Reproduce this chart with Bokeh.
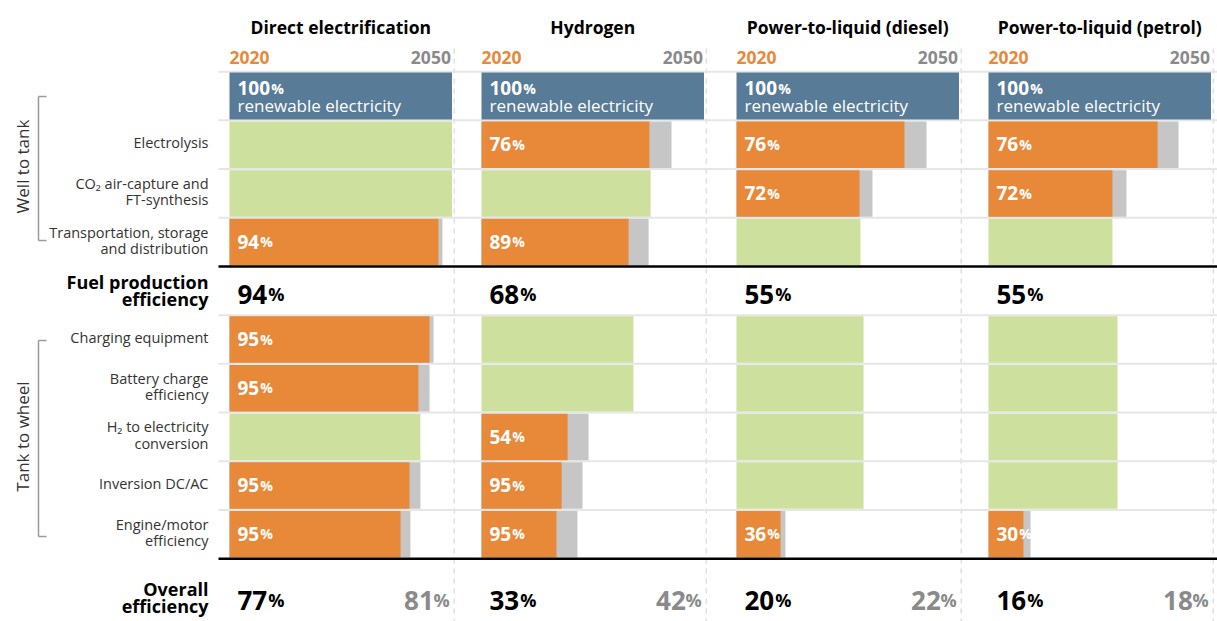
from bokeh.plotting import figure
from bokeh.models import Range1d
from bokeh.core.properties import value
from bokeh.embed import file_html
from bokeh.resources import INLINE

# ---------------- data ----------------
pathways = ["Direct electrification", "Hydrogen", "Power-to-liquid (diesel)", "Power-to-liquid (petrol)"]
renewable_share = [100, 100, 100, 100]

step_labels = [
    ["Electrolysis"],
    ["CO\u2082 air-capture and", "FT-synthesis"],
    ["Transportation, storage", "and distribution"],
    ["Charging equipment"],
    ["Battery charge", "efficiency"],
    ["H\u2082 to electricity", "conversion"],
    ["Inversion DC/AC"],
    ["Engine/motor", "efficiency"],
]
group_labels = ["Well to tank", "Tank to wheel"]

# kind: "o" = step applies (2020 orange + 2050 grey), "g" = step not applicable (pass-through)
kind_direct = ["g", "g", "o", "o", "o", "g", "o", "o"]
cum2020_direct = [100, 100, 93.9, 89.9, 84.9, 85.8, 80.9, 76.9]
cum2050_direct = [100, 100, 95.7, 91.7, 89.9, 85.8, 85.8, 81.3]
eff_direct = [None, None, 94, 95, 95, None, 95, 95]

kind_h2 = ["o", "g", "o", "g", "g", "o", "o", "o"]
cum2020_h2 = [75.5, 76.0, 66.1, 68.3, 68.3, 38.7, 36.0, 33.7]
cum2050_h2 = [85.4, 76.0, 75.1, 68.3, 68.3, 48.1, 45.4, 43.1]
eff_h2 = [76, None, 89, None, None, 54, 95, 95]

kind_diesel = ["o", "o", "g", "g", "g", "g", "g", "o"]
cum2020_diesel = [75.5, 55.3, 55.7, 57.1, 57.1, 57.1, 57.1, 19.8]
cum2050_diesel = [85.4, 61.1, 55.7, 57.1, 57.1, 57.1, 57.1, 22.0]
eff_diesel = [76, 72, None, None, None, None, None, 36]

kind_petrol = ["o", "o", "g", "g", "g", "g", "g", "o"]
cum2020_petrol = [76.0, 55.7, 55.7, 58.0, 58.0, 58.0, 58.0, 15.7]
cum2050_petrol = [85.4, 62.0, 55.7, 58.0, 58.0, 58.0, 58.0, 18.9]
eff_petrol = [76, 72, None, None, None, None, None, 30]

fuel_production_eff = [94, 68, 55, 55]
overall_2020 = [77, 33, 20, 16]
overall_2050 = [81, 42, 22, 18]

kinds = [kind_direct, kind_h2, kind_diesel, kind_petrol]
cum2020 = [cum2020_direct, cum2020_h2, cum2020_diesel, cum2020_petrol]
cum2050 = [cum2050_direct, cum2050_h2, cum2050_diesel, cum2050_petrol]
effs = [eff_direct, eff_h2, eff_diesel, eff_petrol]

# ---------------- layout ----------------
PXU = 2.225           # pixels per percentage point
X_LEFT = 229.0        # page x of first panel's 0 %
ROW0 = 95.5           # page y of first row centre
ROWH = 48.7           # row pitch in px
W, H = 1217, 621

def ux(px):
    return (px - X_LEFT) / PXU

def uy(py):
    return (py - ROW0) / ROWH

def by(px, fs):
    """baseline position (page px) -> data y, corrected for renderer offset"""
    return uy(px - (2 + 0.28 * fs))

panel_left_px = [229, 481, 736, 988]
OFF = [ux(v) for v in panel_left_px]
step_rows = [1, 2, 3, 5, 6, 7, 8, 9]

ORANGE = "#e8893a"
GREEN = "#cde09e"
GREY = "#c6c6c6"
BLUE = "#587b97"
DARK = "#333333"
MIDGREY = "#8a8a8a"
FONT = value("Open Sans")

p = figure(width=W, height=H,
           x_range=Range1d(ux(0), ux(W)),
           y_range=Range1d(uy(H), uy(0)),
           output_backend="svg", toolbar_location=None,
           x_axis_location=None, y_axis_location=None, min_border=0)
p.grid.visible = False
p.outline_line_color = None
p.background_fill_color = "white"

# dashed panel end lines
p.segment(x0=[o + 101 for o in OFF], x1=[o + 101 for o in OFF],
          y0=uy(48), y1=uy(625), line_color="#d8d8d8", line_width=1.2, line_dash="5 5")

# light row separators
sep_rows = [-0.5, 0.5, 1.5, 2.5, 4.5, 5.5, 6.5, 7.5, 8.5]
p.segment(x0=ux(218), x1=ux(1225), y0=sep_rows, y1=sep_rows, line_color="#e6e6e6", line_width=2)

BH = 0.955
# renewable electricity bars
p.hbar(y=[0] * 4, left=OFF, right=[o + v for o, v in zip(OFF, renewable_share)],
       height=0.965, fill_color=BLUE, line_color=None)

for i in range(4):
    o = OFF[i]
    ys_g, r_g = [], []
    ys_o, r_o, r_2050 = [], [], []
    for j, r in enumerate(step_rows):
        if kinds[i][j] == "g":
            ys_g.append(r); r_g.append(o + cum2020[i][j])
        else:
            ys_o.append(r); r_o.append(o + cum2020[i][j]); r_2050.append(o + cum2050[i][j])
    p.hbar(y=ys_g, left=o, right=r_g, height=BH, fill_color=GREEN, line_color=None)
    p.hbar(y=ys_o, left=o, right=r_2050, height=BH, fill_color=GREY, line_color=None)
    p.hbar(y=ys_o, left=o, right=r_o, height=BH, fill_color=ORANGE, line_color=None)

# thick black lines
p.segment(x0=ux(218), x1=ux(1225), y0=[3.5, 9.5], y1=[3.5, 9.5], line_color="black", line_width=2.5)


def pct_text(xs, base_px, nums, color, nsize, psize, dw, align="left", pw=0, pcolor=None):
    s = [str(n) for n in nums]
    ys = [by(b, nsize) for b in base_px]
    if pcolor is None:
        pcolor = color
    ns, ps = f"{nsize}px", f"{psize}px"
    if align == "left":
        p.text(x=xs, y=ys, text=s, text_align="left", text_baseline="alphabetic",
               text_font=FONT, text_font_style="bold", text_font_size=ns, text_color=color)
        p.text(x=xs, y=ys, text=["%"] * len(s), x_offset=[len(t) * dw + 1 for t in s],
               text_align="left", text_baseline="alphabetic",
               text_font=FONT, text_font_style="bold", text_font_size=ps, text_color=pcolor)
    else:
        p.text(x=xs, y=ys, text=["%"] * len(s), text_align="right", text_baseline="alphabetic",
               text_font=FONT, text_font_style="bold", text_font_size=ps, text_color=pcolor)
        p.text(x=xs, y=ys, text=s, x_offset=-pw - 1, text_align="right", text_baseline="alphabetic",
               text_font=FONT, text_font_style="bold", text_font_size=ns, text_color=color)


LAB_DX = 8 / PXU
# step efficiency labels inside bars
for i in range(4):
    xs, bs, ns = [], [], []
    for j, r in enumerate(step_rows):
        if effs[i][j] is not None:
            xs.append(OFF[i] + LAB_DX); bs.append(ROW0 + r * ROWH + 7); ns.append(effs[i][j])
    pct_text(xs, bs, ns, "white", 19, 14, 10.9)

# renewable labels
pct_text([o + LAB_DX for o in OFF], [95] * 4, renewable_share, "white", 19, 14, 10.9)
p.text(x=[o + LAB_DX for o in OFF], y=[by(112, 17)] * 4, text=["renewable electricity"] * 4,
       text_align="left", text_baseline="alphabetic", text_font=FONT, text_font_size="17px",
       text_color="white")

# fuel production efficiency
pct_text([o + LAB_DX for o in OFF], [303] * 4, fuel_production_eff, "black", 26, 18, 14.9)
# overall
pct_text([o + LAB_DX for o in OFF], [609] * 4, overall_2020, "black", 26, 18, 14.9)
pct_text([o + 99 for o in OFF], [609] * 4, overall_2050, MIDGREY, 26, 18, 14.9,
         align="right", pw=15)

# panel titles and year labels
p.text(x=[o + 50 for o in OFF], y=[by(33, 17.5)] * 4, text=pathways, text_align="center",
       text_baseline="alphabetic", text_font=FONT, text_font_style="bold", text_font_size="17.5px",
       text_color="black")
p.text(x=OFF, y=[by(64, 17.5)] * 4, text=["2020"] * 4, text_align="left", text_baseline="alphabetic",
       text_font=FONT, text_font_style="bold", text_font_size="17.5px", text_color=ORANGE)
p.text(x=[o + 99.5 for o in OFF], y=[by(64, 17.5)] * 4, text=["2050"] * 4, text_align="right",
       text_baseline="alphabetic", text_font=FONT, text_font_style="bold", text_font_size="17.5px",
       text_color=MIDGREY)

# row labels
lx, ly, lt = [], [], []
for j, r in enumerate(step_rows):
    lines = step_labels[j]
    c = ROW0 + r * ROWH
    if len(lines) == 1:
        lx.append(ux(208)); ly.append(by(c + 4, 14.5)); lt.append(lines[0])
    else:
        lx += [ux(208), ux(208)]
        ly += [by(c - 4, 14.5), by(c + 12.5, 14.5)]
        lt += lines
p.text(x=lx, y=ly, text=lt, text_align="right", text_baseline="alphabetic", text_font=FONT,
       text_font_size="14.5px", text_color=DARK)

p.text(x=[ux(208)] * 4, y=[by(289, 18), by(306, 18), by(596, 18), by(613, 18)],
       text=["Fuel production", "efficiency", "Overall", "efficiency"],
       text_align="right", text_baseline="alphabetic", text_font=FONT, text_font_style="bold",
       text_font_size="18px", text_color="black")

# group brackets
BC = "#9a9a9a"
p.segment(x0=[ux(38), ux(38)], x1=[ux(38), ux(38)], y0=[uy(96), uy(340)], y1=[uy(240), uy(536)],
          line_color=BC, line_width=1.5)
p.segment(x0=[ux(38)] * 4, x1=[ux(46)] * 4, y0=[uy(96), uy(240), uy(340), uy(536)],
          y1=[uy(96), uy(240), uy(340), uy(536)], line_color=BC, line_width=1.5)
p.text(x=[ux(22), ux(22)], y=[uy(166), uy(436)], text=group_labels, angle=1.5708,
       text_align="center", text_baseline="middle", text_font=FONT, text_font_size="17px",
       text_color=DARK)

open("out.html", "w").write(file_html(p, INLINE))
